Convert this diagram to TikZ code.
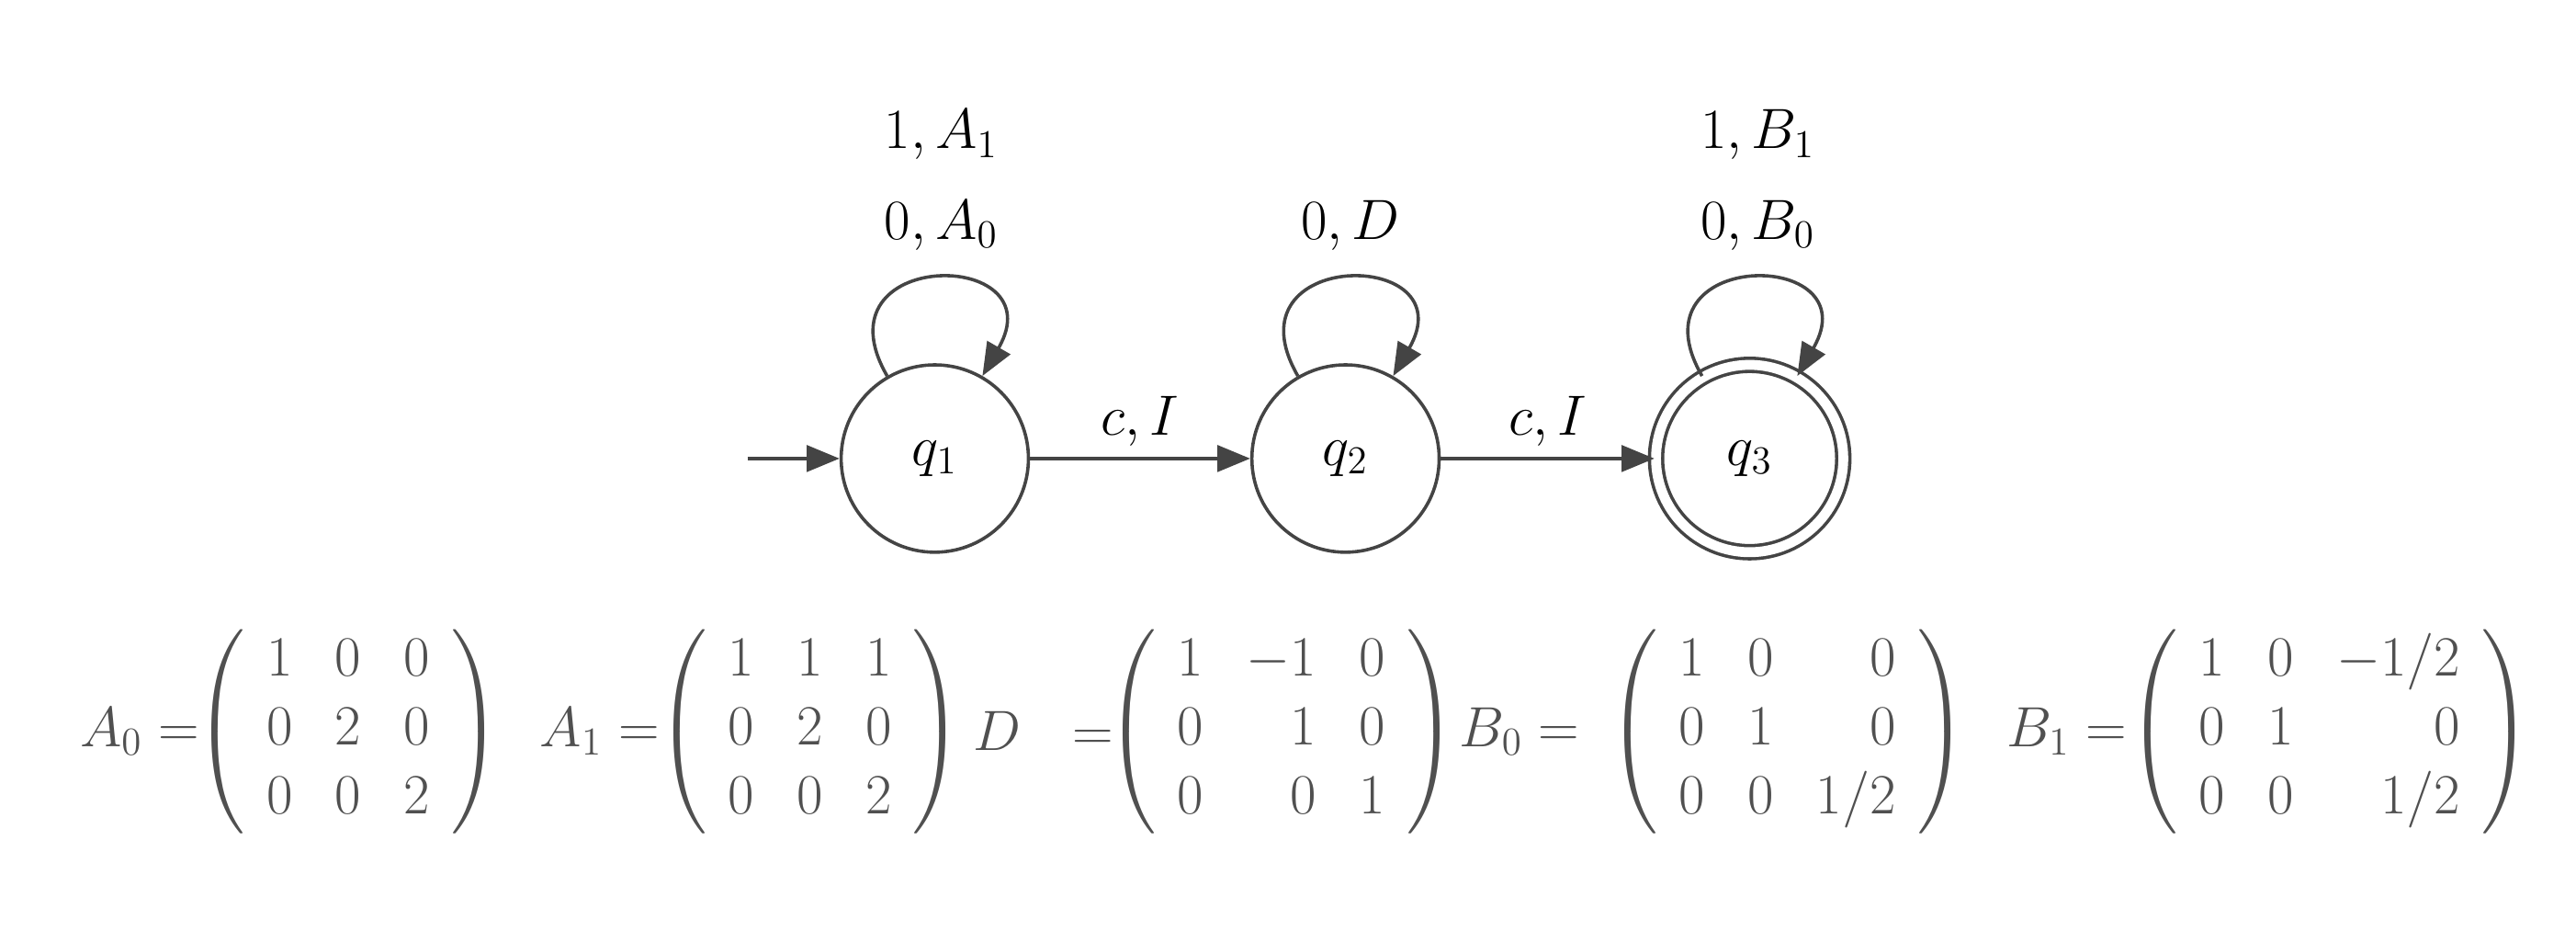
\documentclass[tikz,border=0pt]{standalone}
\usepackage{amsmath}
\usetikzlibrary{arrows.meta}
\definecolor{ink}{HTML}{444444}
\definecolor{txt}{HTML}{505050}
\begin{document}
\begin{tikzpicture}[x=0.5pt,y=-0.5pt,
  state/.style={circle,draw=ink,line width=1pt,minimum size=57pt,inner sep=0pt,text=black},
  lab/.style={font=\fontsize{18}{22}\selectfont,text=black},
  mat/.style={font=\fontsize{18}{22}\selectfont,text=txt},
  arr/.style={draw=ink,line width=1pt,-{Triangle[length=10pt,width=8pt]}}]
\useasboundingbox (0,0) rectangle (1568,566);
\node[state,lab] (q1) at (569,279) {$q_1$};
\node[state,lab] (q2) at (819,279) {$q_2$};
\node[state,lab,double,double distance=3pt] (q3) at (1065,279) {$q_3$};
\coordinate (start) at (455,279);
\draw[arr] (start) -- (q1);
\draw[arr] (q1) -- node[lab,above]{$c,I$} (q2);
\draw[arr] (q2) -- node[lab,above]{$c,I$} (q3);
\draw[arr] (q1) to[out=120,in=60,looseness=4] (q1);
\draw[arr] (q2) to[out=120,in=60,looseness=4] (q2);
\draw[arr] (q3) to[out=120,in=60,looseness=4] (q3);
\node[lab] (l1a) at (573,82) {$1,A_1$};
\node[lab] (l1b) at (573,137) {$0,A_0$};
\node[lab] (l2) at (822,137) {$0,D$};
\node[lab] (l3a) at (1070,82) {$1,B_1$};
\node[lab] (l3b) at (1070,137) {$0,B_0$};
\renewcommand{\arraystretch}{0.95}
\setlength{\arraycolsep}{6.5pt}
\node[mat] (nA0) at (85,445) {$A_0=$};
\node[mat] (mA0) at (212,445) {$\left(\begin{array}{ccc}1&0&0\\0&2&0\\0&0&2\end{array}\right)$};
\node[mat] (nA1) at (365,445) {$A_1=$};
\node[mat] (mA1) at (493,445) {$\left(\begin{array}{ccc}1&1&1\\0&2&0\\0&0&2\end{array}\right)$};
\node[mat] (nD) at (635,445) {$D\ \ =$};
\node[mat] (mD) at (780,445) {$\left(\begin{array}{crc}1&-1&0\\0&1&0\\0&0&1\end{array}\right)$};
\node[mat] (nB0) at (925,445) {$B_0=$};
\node[mat] (mB0) at (1088,445) {$\left(\begin{array}{ccr}1&0&0\\0&1&0\\0&0&1/2\end{array}\right)$};
\node[mat] (nB1) at (1258,445) {$B_1=$};
\node[mat] (mB1) at (1418,445) {$\left(\begin{array}{ccr}1&0&-1/2\\0&1&0\\0&0&1/2\end{array}\right)$};
\end{tikzpicture}
\end{document}
